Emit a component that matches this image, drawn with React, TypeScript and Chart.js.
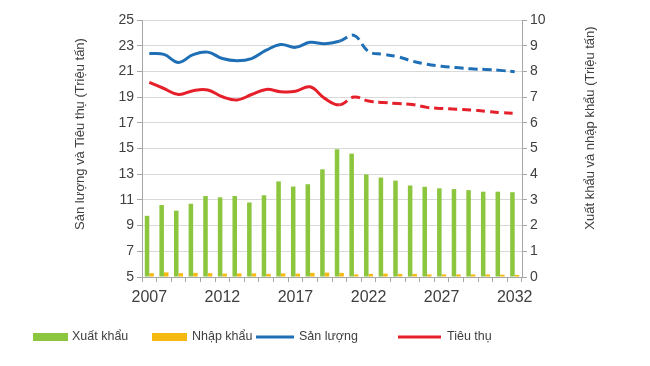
import React, { useEffect, useRef } from "react";
import { Chart, registerables } from "chart.js";

Chart.register(...registerables);

const years = [
  "2007", "2008", "2009", "2010", "2011", "2012", "2013", "2014", "2015", "2016", "2017", "2018", "2019",
  "2020", "2021", "2022", "2023", "2024", "2025", "2026", "2027", "2028", "2029", "2030", "2031", "2032",
];
const exportsVals = [
  2.38, 2.8, 2.58, 2.85, 3.15, 3.1, 3.15, 2.9, 3.18, 3.72, 3.52, 3.61, 4.19,
  4.97, 4.8, 3.99, 3.87, 3.75, 3.56, 3.51, 3.45, 3.42, 3.38, 3.32, 3.32, 3.3,
];
const importsVals = [
  0.15, 0.18, 0.15, 0.16, 0.15, 0.13, 0.14, 0.14, 0.12, 0.14, 0.13, 0.16, 0.17,
  0.16, 0.1, 0.12, 0.13, 0.12, 0.12, 0.1, 0.1, 0.1, 0.1, 0.1, 0.09, 0.08,
];
const production = [
  22.4, 22.33, 21.7, 22.3, 22.5, 22.0, 21.83, 22.0, 22.65, 23.1, 22.87, 23.26, 23.15,
  23.35, 23.8, 22.55, 22.33, 22.14, 21.8, 21.55, 21.4, 21.3, 21.2, 21.15, 21.08, 20.97,
];
const consumption = [
  20.14, 19.67, 19.2, 19.5, 19.55, 19.03, 18.77, 19.2, 19.6, 19.42, 19.45, 19.8, 18.9,
  18.4, 19.0, 18.7, 18.58, 18.5, 18.43, 18.2, 18.12, 18.06, 18.0, 17.9, 17.8, 17.73,
];
const leftTitle = "Sản lượng và Tiêu thụ (Triệu tấn)";
const rightTitle = "Xuất khẩu và nhập khẩu (Triệu tấn)";
const legendLabels = ["Xuất khẩu", "Nhập khẩu", "Sản lượng", "Tiêu thụ"];

const GREEN = "#8cc63e";
const YELLOW = "#f5b90f";
const BLUE = "#1e6fb5";
const RED = "#e5202a";
const FONT = "'Liberation Sans', Arial, sans-serif";
const TEXT = "#404040";
const FORECAST_START = 13;

const extrasPlugin = {
  id: "extras",
  afterDraw(chart: any) {
    const ctx = chart.ctx;
    ctx.save();
    ctx.fillStyle = TEXT;
    ctx.font = `13px ${FONT}`;
    ctx.textAlign = "center";
    ctx.textBaseline = "middle";
    ctx.save();
    ctx.translate(80, 134);
    ctx.rotate(-Math.PI / 2);
    ctx.fillText(leftTitle, 0, 0);
    ctx.restore();
    ctx.save();
    ctx.translate(590, 128);
    ctx.rotate(-Math.PI / 2);
    ctx.fillText(rightTitle, 0, 0);
    ctx.restore();

    // legend
    const y = 337;
    ctx.textAlign = "left";
    ctx.font = `12.5px ${FONT}`;
    ctx.fillStyle = GREEN;
    ctx.fillRect(33, y - 4, 35, 8);
    ctx.fillStyle = TEXT;
    ctx.fillText(legendLabels[0], 72, y);
    ctx.fillStyle = YELLOW;
    ctx.fillRect(152, y - 4, 35, 8);
    ctx.fillStyle = TEXT;
    ctx.fillText(legendLabels[1], 192, y);
    ctx.fillStyle = BLUE;
    ctx.fillRect(256, y - 1.5, 38, 3);
    ctx.fillStyle = TEXT;
    ctx.fillText(legendLabels[2], 299, y);
    ctx.fillStyle = RED;
    ctx.fillRect(398, y - 1.5, 43, 3);
    ctx.fillStyle = TEXT;
    ctx.fillText(legendLabels[3], 447, y);
    ctx.restore();
  },
};

export default function App() {
  const ref = useRef<HTMLCanvasElement>(null);
  useEffect(() => {
    if (!ref.current) return;
    const dash = (c: any) => (c.p0DataIndex >= FORECAST_START ? [9, 5] : undefined);
    const chart = new Chart(ref.current, {
      type: "bar",
      data: {
        labels: years,
        datasets: [
          {
            type: "line",
            label: legendLabels[2],
            data: production,
            yAxisID: "y",
            borderColor: BLUE,
            backgroundColor: BLUE,
            borderWidth: 3,
            pointRadius: 0,
            tension: 0.4,
            order: 0,
            segment: { borderDash: dash },
          } as any,
          {
            type: "line",
            label: legendLabels[3],
            data: consumption,
            yAxisID: "y",
            borderColor: RED,
            backgroundColor: RED,
            borderWidth: 3,
            pointRadius: 0,
            tension: 0.4,
            order: 0,
            segment: { borderDash: dash },
          } as any,
          {
            type: "bar",
            label: legendLabels[0],
            data: exportsVals,
            yAxisID: "y1",
            backgroundColor: GREEN,
            categoryPercentage: 0.62,
            barPercentage: 1,
            order: 1,
          },
          {
            type: "bar",
            label: legendLabels[1],
            data: importsVals,
            yAxisID: "y1",
            backgroundColor: YELLOW,
            categoryPercentage: 0.62,
            barPercentage: 1,
            order: 1,
          },
        ],
      },
      options: {
        responsive: true,
        maintainAspectRatio: false,
        animation: false,
        layout: { padding: { top: 20, left: 0, right: 0, bottom: 0 } },
        plugins: { legend: { display: false }, tooltip: { enabled: false } },
        scales: {
          x: {
            type: "category",
            offset: true,
            grid: {
              offset: true,
              drawOnChartArea: false,
              drawTicks: true,
              tickLength: 5,
              color: "#a6a6a6",
              tickColor: "#a6a6a6",
            },
            border: { color: "#a6a6a6" },
            ticks: {
              autoSkip: false,
              maxRotation: 0,
              minRotation: 0,
              padding: 6,
              color: TEXT,
              font: { family: FONT, size: 16 },
              callback: (_v: any, i: number) => (i % 5 === 0 ? years[i] : ""),
            },
            afterFit: (s: any) => {
              s.height = 89;
            },
          },
          y: {
            position: "left",
            min: 5,
            max: 25,
            ticks: {
              stepSize: 2,
              color: TEXT,
              padding: 3,
              font: { family: FONT, size: 14 },
            },
            grid: { color: "#d9d9d9", tickColor: "#a6a6a6", tickLength: 5 },
            border: { color: "#a6a6a6" },
            afterFit: (s: any) => {
              s.width = 142;
            },
          },
          y1: {
            position: "right",
            min: 0,
            max: 10,
            ticks: {
              stepSize: 1,
              color: TEXT,
              padding: 3,
              font: { family: FONT, size: 14 },
            },
            grid: { drawOnChartArea: false, tickColor: "#a6a6a6", tickLength: 5 },
            border: { color: "#a6a6a6" },
            afterFit: (s: any) => {
              s.width = 128;
            },
          },
        },
      },
      plugins: [extrasPlugin],
    });
    return () => chart.destroy();
  }, []);
  return (
    <div style={{ position: "fixed", left: 0, top: 0, width: 650, height: 366, background: "#fff" }}>
      <canvas ref={ref} />
    </div>
  );
}
